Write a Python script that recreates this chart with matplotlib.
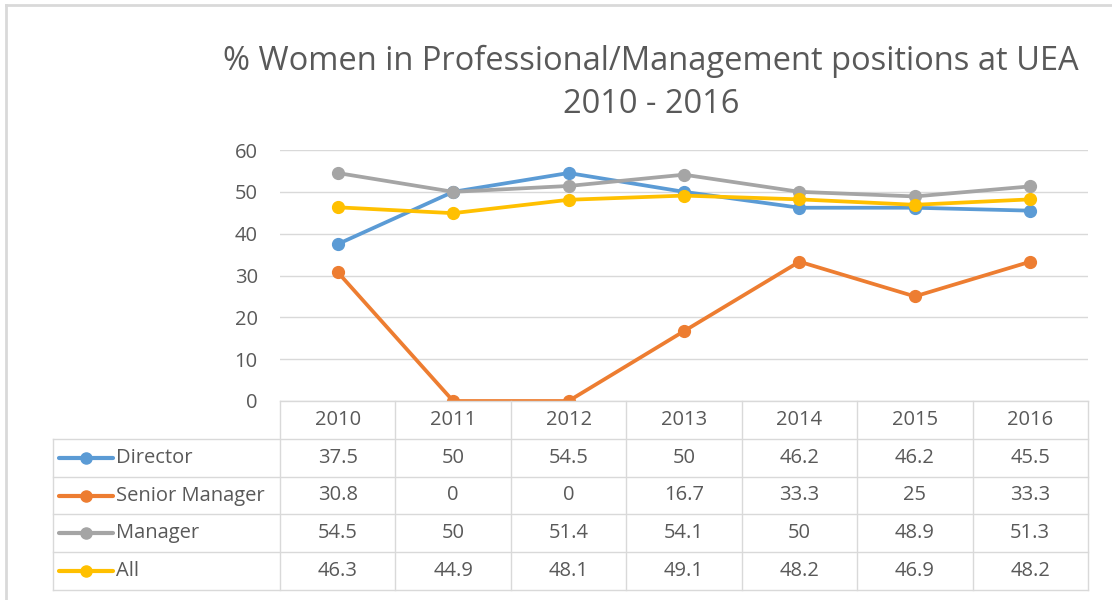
import matplotlib
matplotlib.use("Agg")
import matplotlib.pyplot as plt
from matplotlib.lines import Line2D

years = ["2010", "2011", "2012", "2013", "2014", "2015", "2016"]
series_names = ["Director", "Senior Manager", "Manager", "All"]
director = [37.5, 50, 54.5, 50, 46.2, 46.2, 45.5]
senior_manager = [30.8, 0, 0, 16.7, 33.3, 25, 33.3]
manager = [54.5, 50, 51.4, 54.1, 50, 48.9, 51.3]
all_staff = [46.3, 44.9, 48.1, 49.1, 48.2, 46.9, 48.2]
colors = ["#5B9BD5", "#ED7D31", "#A5A5A5", "#FFC000"]
title = "% Women in Professional/Management positions at UEA\n2010 - 2016"

data = [director, senior_manager, manager, all_staff]

plt.rcParams['font.family'] = ['Open Sans', 'DejaVu Sans']
W, H = 1112, 600
fig = plt.figure(figsize=(W / 100, H / 100), dpi=100)

def fx(px):
    return px / W

def fy(py):
    return 1 - py / H

# figure border (top and left)
fig.add_artist(Line2D([fx(6), fx(6)], [fy(5), 0], color="#d9d9d9", lw=2))
fig.add_artist(Line2D([fx(6), 1], [fy(5), fy(5)], color="#d9d9d9", lw=2))

ax_l, ax_r, ax_t, ax_b = 280, 1088, 150, 401
ax = fig.add_axes([fx(ax_l), fy(ax_b), fx(ax_r - ax_l), (ax_b - ax_t) / H])
x = list(range(len(years)))
for vals, c in zip(data, colors):
    ax.plot(x, vals, color=c, lw=2.7, marker="o", markersize=8.5, zorder=3,
            solid_capstyle="round")
ax.set_xlim(-0.5, len(years) - 0.5)
ax.set_ylim(0, 60)
ax.set_yticks(range(0, 61, 10))
ax.set_xticks([])
ax.grid(axis="y", color="#d9d9d9", lw=1)
ax.set_axisbelow(True)
for s in ax.spines.values():
    s.set_visible(False)
ax.tick_params(axis="y", length=0, pad=16, labelsize=14.5, labelcolor="#595959")
for lab in ax.get_yticklabels():
    lab.set_clip_on(False)

fig.text(fx(651), fy(83), title, ha="center", va="center", fontsize=23.5,
         color="#595959", linespacing=1.38)

# table
tb_l, tb_t, tb_b = 53, 401, 590
col_w = (ax_r - ax_l) / len(years)
left_cols = (ax_l - tb_l) / col_w
tax = fig.add_axes([fx(tb_l), fy(tb_b), fx(ax_r - tb_l), (tb_b - tb_t) / H])
tax.set_xlim(-0.5 - left_cols, len(years) - 0.5)
tax.set_ylim(5, 0)
tax.axis("off")
gc = "#d9d9d9"
# horizontal lines
tax.plot([-0.5, len(years) - 0.5], [0, 0], color=gc, lw=1, clip_on=False)
for r in range(1, 6):
    tax.plot([-0.5 - left_cols, len(years) - 0.5], [r, r], color=gc, lw=1, clip_on=False)
# vertical lines
for c in range(len(years) + 1):
    tax.plot([c - 0.5, c - 0.5], [0, 5], color=gc, lw=1, clip_on=False)
tax.plot([-0.5 - left_cols] * 2, [1, 5], color=gc, lw=1, clip_on=False)

tc = "#595959"
fs = 14.5
for i, yr in enumerate(years):
    tax.text(i, 0.5, yr, ha="center", va="center", fontsize=fs, color=tc)
for r, (name, vals, c) in enumerate(zip(series_names, data, colors)):
    yrow = r + 1.5
    for i, v in enumerate(vals):
        tax.text(i, yrow, f"{v:g}", ha="center", va="center", fontsize=fs, color=tc)
    x0 = -0.5 - left_cols
    tax.plot([x0 + 0.05, x0 + 0.52], [yrow, yrow], color=c, lw=3, clip_on=False,
             solid_capstyle="round")
    tax.plot([x0 + 0.285], [yrow], color=c, marker="o", markersize=8, clip_on=False)
    tax.text(x0 + 0.55, yrow, name, ha="left", va="center", fontsize=fs, color=tc)

fig.savefig("out.png", dpi=100, facecolor="white")
